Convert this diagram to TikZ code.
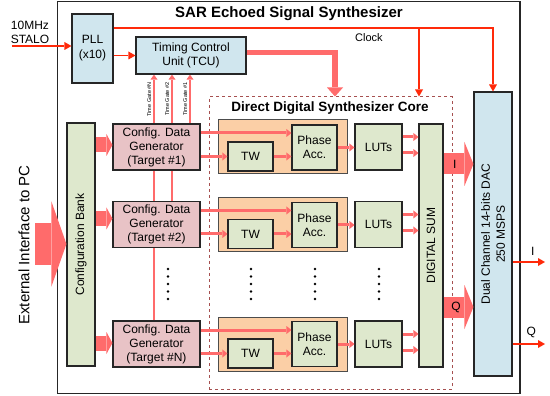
\documentclass[tikz,border=0pt]{standalone}
\usepackage{fontspec}
\setmainfont{Liberation Sans}
\usetikzlibrary{arrows.meta,backgrounds}
\definecolor{dacblue}{HTML}{D0E6EE}
\definecolor{genpink}{HTML}{E8C3C6}
\definecolor{lutgreen}{HTML}{DEE8CD}
\definecolor{accorange}{HTML}{FBCFA6}
\definecolor{flowred}{HTML}{FF6B6B}
\definecolor{clkred}{HTML}{FF2A0A}
\definecolor{dashred}{HTML}{A65050}
\begin{document}
\begin{tikzpicture}[x=1pt,y=-1pt]
  \tikzstyle{box}=[draw=black!85,line width=1.1pt,align=center,inner sep=1pt,font=\fontsize{12}{14}\selectfont]
  \tikzstyle{bluebox}=[box,fill=dacblue]
  \tikzstyle{pinkbox}=[box,fill=genpink]
  \tikzstyle{greenbox}=[box,fill=lutgreen]
  \tikzstyle{orangebox}=[draw=black!70,line width=1pt,fill=accorange,minimum width=129pt,minimum height=54pt]
  \tikzstyle{clk}=[draw=clkred,line width=1.4pt,-{Triangle[length=7pt,width=8pt,line width=0pt]}]
  \tikzstyle{flow}=[draw=flowred,line width=3pt,-{Triangle[length=5pt,width=8pt,line width=0pt]}]
  \tikzstyle{gate}=[draw=flowred,line width=2.5pt,-{Triangle[length=5pt,width=7pt,line width=0pt]}]
  \tikzstyle{bigflow}=[draw=flowred,line width=15pt,-{Triangle[length=6pt,width=22pt,line width=0pt]}]
  \tikzstyle{gatelbl}=[rotate=90,anchor=south,inner sep=1.5pt,font=\fontsize{5.5}{6}\selectfont]
  \useasboundingbox (0,0) rectangle (550,396);

  % frame and titles
  \node[draw=black!85,line width=1.3pt,minimum width=462.5pt,minimum height=392pt] (synth) at (288.75,197.5) {};
  \node[font=\bfseries\fontsize{15}{17}\selectfont] (title) at (289,14) {SAR Echoed Signal Synthesizer};
  \node[align=center,font=\fontsize{12}{14}\selectfont] (stalo) at (30,32) {10MHz\\STALO};
  \node[rotate=90,font=\fontsize{15}{17}\selectfont] (pc) at (24,245) {External Interface to PC};

  % clock and timing
  \node[bluebox,minimum width=41pt,minimum height=69pt,font=\fontsize{12}{15}\selectfont] (pll) at (92.5,48.5) {PLL\\(x10)};
  \node[bluebox,minimum width=110pt,minimum height=37pt] (tcu) at (191,55.5) {Timing Control\\Unit (TCU)};

  % configuration side
  \node[greenbox,minimum width=28pt,minimum height=243pt,
        label={[rotate=90,font=\fontsize{12}{14}\selectfont]center:Configuration Bank}] (bank) at (81,244.5) {};
  \node[pinkbox,minimum width=87pt,minimum height=46pt] (gen1) at (156.5,147) {Config. Data\\Generator\\(Target \#1)};
  \node[pinkbox,minimum width=87pt,minimum height=46pt] (gen2) at (156.5,224.5) {Config. Data\\Generator\\(Target \#2)};
  \node[pinkbox,minimum width=87pt,minimum height=46pt] (genN) at (156.5,344) {Config. Data\\Generator\\(Target \#N)};

  % DDS core
  \node[draw=dashred,dashed,line width=1pt,minimum width=243pt,minimum height=292pt] (core) at (330.5,243) {};
  \node[font=\bfseries\fontsize{13.5}{15}\selectfont] (coretitle) at (330,108) {Direct Digital Synthesizer Core};

  \node[orangebox] (dds1) at (282.5,147) {};
  \node[greenbox,minimum width=45pt,minimum height=29pt] (tw1) at (250.5,156.5) {TW};
  \node[greenbox,minimum width=45pt,minimum height=45pt] (phase1) at (314.5,147.5) {Phase\\Acc.};
  \node[greenbox,minimum width=47pt,minimum height=46pt] (luts1) at (378.5,147) {LUTs};

  \node[orangebox] (dds2) at (282.5,224.5) {};
  \node[greenbox,minimum width=45pt,minimum height=29pt] (tw2) at (250.5,234) {TW};
  \node[greenbox,minimum width=45pt,minimum height=45pt] (phase2) at (314.5,225) {Phase\\Acc.};
  \node[greenbox,minimum width=47pt,minimum height=46pt] (luts2) at (378.5,224.5) {LUTs};

  \node[orangebox] (ddsN) at (282.5,344) {};
  \node[greenbox,minimum width=45pt,minimum height=29pt] (twN) at (250.5,353.5) {TW};
  \node[greenbox,minimum width=45pt,minimum height=45pt] (phaseN) at (314.5,344) {Phase\\Acc.};
  \node[greenbox,minimum width=47pt,minimum height=46pt] (lutsN) at (378.5,344) {LUTs};

  \node[greenbox,minimum width=24pt,minimum height=243pt,
        label={[rotate=90,font=\fontsize{12}{14}\selectfont]center:DIGITAL SUM}] (dsum) at (431,245.5) {};
  \node[bluebox,minimum width=38pt,minimum height=284pt,
        label={[rotate=90,align=center,font=\fontsize{12}{15}\selectfont]center:Dual Channel 14-bits DAC\\250 MSPS}] (dac) at (493,234) {};

  % clock lines
  \coordinate (staloin) at (12,46);
  \draw[clk] (staloin) -- (staloin -| pll.west);
  \draw[clk] (pll.east |- tcu.west) -- (tcu.west);
  \draw[clk] ([yshift=20.5pt]pll.east) -| (dac.north);
  \coordinate (clktap) at (419,28);
  \draw[clk] (clktap) -- (clktap |- core.north);
  \node[font=\fontsize{11}{13}\selectfont] (clklbl) at (369,38) {Clock};
  \draw[flow,line width=5.5pt,-{Triangle[length=9pt,width=16pt,line width=0pt]}] ([yshift=3pt]tcu.east) -| ([xshift=4.5pt]core.north);

  % time gates
  \begin{scope}[on background layer]
    \draw[gate] ([xshift=33.5pt]gen1.north) -- ([xshift=33.5pt]gen1.north |- tcu.south) node[gatelbl,pos=0.5] {Time Gate \#1};
    \draw[gate] ([xshift=15.5pt]gen2.north) -- ([xshift=15.5pt]gen2.north |- tcu.south) node[gatelbl,pos=0.805] {Time Gate \#2};
    \draw[gate] ([xshift=-2.5pt]genN.north) -- ([xshift=-2.5pt]genN.north |- tcu.south) node[gatelbl,pos=0.899] {Time Gate \#N};
  \end{scope}

  % configuration data
  \coordinate (pcin) at (35,244);
  \draw[flow,line width=42pt,-{Triangle[length=15pt,width=85pt,line width=0pt]}] (pcin) -- (pcin -| bank.west);
  \draw[bigflow] ([yshift=2pt]gen1.west -| bank.east) -- ([yshift=2pt]gen1.west);
  \draw[bigflow] ([yshift=6pt]gen2.west -| bank.east) -- ([yshift=6pt]gen2.west);
  \draw[bigflow] ([yshift=1pt]genN.west -| bank.east) -- ([yshift=1pt]genN.west);

  % channel data paths
  \draw[flow] ([yshift=14pt]gen1.east) -- ([yshift=14pt]gen1.east -| phase1.west);
  \draw[flow] (gen1.east |- tw1.west) -- (tw1.west);
  \draw[flow] (tw1.east) -- (tw1.east -| phase1.west);
  \draw[flow] (phase1.east) -- (phase1.east -| luts1.west);
  \draw[flow] ([yshift=10pt]luts1.east) -- ([yshift=10pt]luts1.east -| dsum.west);
  \draw[flow] ([yshift=-6pt]luts1.east) -- ([yshift=-6pt]luts1.east -| dsum.west);

  \draw[flow] ([yshift=14pt]gen2.east) -- ([yshift=14pt]gen2.east -| phase2.west);
  \draw[flow] (gen2.east |- tw2.west) -- (tw2.west);
  \draw[flow] (tw2.east) -- (tw2.east -| phase2.west);
  \draw[flow] (phase2.east) -- (phase2.east -| luts2.west);
  \draw[flow] ([yshift=10pt]luts2.east) -- ([yshift=10pt]luts2.east -| dsum.west);
  \draw[flow] ([yshift=-6pt]luts2.east) -- ([yshift=-6pt]luts2.east -| dsum.west);

  \draw[flow] ([yshift=14pt]genN.east) -- ([yshift=14pt]genN.east -| phaseN.west);
  \draw[flow] (genN.east |- twN.west) -- (twN.west);
  \draw[flow] (twN.east) -- (twN.east -| phaseN.west);
  \draw[flow] (phaseN.east) -- (phaseN.east -| lutsN.west);
  \draw[flow] ([yshift=10pt]lutsN.east) -- ([yshift=10pt]lutsN.east -| dsum.west);
  \draw[flow] ([yshift=-6pt]lutsN.east) -- ([yshift=-6pt]lutsN.east -| dsum.west);

  % I/Q to DAC and outputs
  \draw[flow,line width=21pt,-{Triangle[length=9pt,width=44pt,line width=0pt]}] ([yshift=81.5pt]dsum.east) -- ([yshift=81.5pt]dsum.east -| dac.west)
    node[pos=0.38,text=black,font=\fontsize{12}{14}\selectfont] {I};
  \draw[flow,line width=21pt,-{Triangle[length=9pt,width=44pt,line width=0pt]}] ([yshift=-61.5pt]dsum.east) -- ([yshift=-61.5pt]dsum.east -| dac.west)
    node[pos=0.42,text=black,font=\fontsize{12}{14}\selectfont] {Q};
  \coordinate (iout) at (545,262);
  \coordinate (qout) at (545,344);
  \draw[clk] (iout -| dac.east) -- (iout) node[pos=0.62,above=2pt,font=\fontsize{12}{14}\selectfont] {I};
  \draw[clk] (qout -| dac.east) -- (qout) node[pos=0.58,above=2pt,font=\fontsize{12}{14}\selectfont] {Q};

  % dots between rows
  \foreach \dx in {168,251,315,379}
    \foreach \dy in {0,1,2,3,4}
      \fill (\dx,{269+7.5*\dy}) circle (1.3pt);
\end{tikzpicture}
\end{document}
